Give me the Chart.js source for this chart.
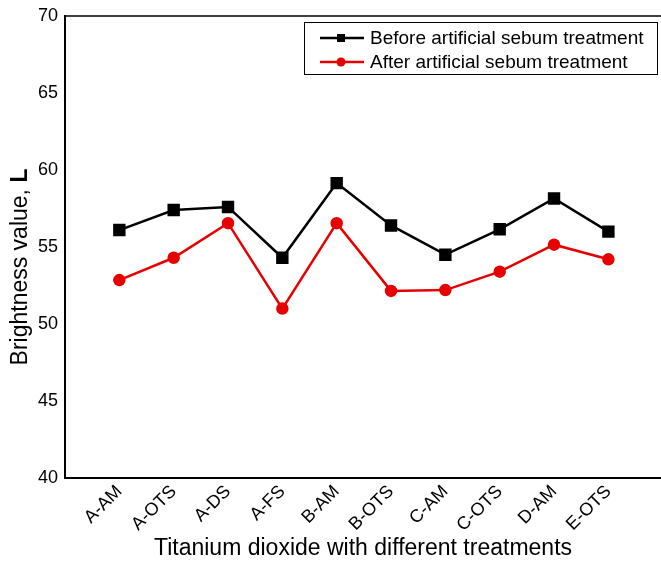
<!DOCTYPE html>
<html>
<head>
<meta charset="utf-8">
<script src="https://cdn.jsdelivr.net/npm/chart.js@4"></script>
<style>
    html, body { margin: 0; padding: 0; background: #fff; }
    #wrap { width: 661px; height: 562px; }
</style>
</head>
<body>
<div id="wrap"><canvas id="brightChart" width="661" height="562"></canvas></div>
<script>
// Categories and brightness values
const treatments = ['A-AM', 'A-OTS', 'A-DS', 'A-FS', 'B-AM', 'B-OTS', 'C-AM', 'C-OTS', 'D-AM', 'E-OTS'];
const beforeSebum = [56.1, 57.4, 57.6, 54.3, 59.15, 56.4, 54.5, 56.15, 58.15, 56.0];
const afterSebum = [52.85, 54.3, 56.55, 51.0, 56.55, 52.15, 52.2, 53.4, 55.15, 54.2];
const yTicks = [40, 45, 50, 55, 60, 65, 70];

const FONT = "'Liberation Sans', Arial, sans-serif";
const RED = '#e60000';

function toPoints(values) {
    return values.map((v, i) => ({ x: i, y: v }));
}

// Frame top line, axis titles and the boxed legend
const decorPlugin = {
    id: 'decor',
    afterDraw(chart) {
        const ctx = chart.ctx;
        const area = chart.chartArea;
        ctx.save();

        // top frame line
        ctx.strokeStyle = '#000';
        ctx.lineWidth = 1.5;
        ctx.beginPath();
        ctx.moveTo(area.left, area.top);
        ctx.lineTo(area.right + 1, area.top);
        ctx.stroke();

        // x axis title
        ctx.fillStyle = '#000';
        ctx.font = '23px ' + FONT;
        ctx.textAlign = 'center';
        ctx.textBaseline = 'alphabetic';
        ctx.fillText('Titanium dioxide with different treatments', 363, 555);

        // y axis title, with bold L
        ctx.save();
        ctx.translate(27, 267);
        ctx.rotate(-Math.PI / 2);
        ctx.textAlign = 'left';
        ctx.font = '23px ' + FONT;
        const part1 = 'Brightness value,';
        const w1 = ctx.measureText(part1 + ' ').width;
        ctx.font = 'bold 23px ' + FONT;
        const w2 = ctx.measureText('L').width;
        const start = -(w1 + w2) / 2;
        ctx.font = '23px ' + FONT;
        ctx.fillText(part1, start, 0);
        ctx.font = 'bold 23px ' + FONT;
        ctx.fillText('L', start + w1, 0);
        ctx.restore();

        // legend box
        ctx.lineWidth = 1;
        ctx.strokeStyle = '#000';
        ctx.strokeRect(304.5, 22.5, 353, 52);
        const rows = [
            { label: 'Before artificial sebum treatment', color: '#000', y: 38, style: 'rect' },
            { label: 'After artificial sebum treatment', color: RED, y: 62, style: 'circle' }
        ];
        rows.forEach(function(r) {
            ctx.strokeStyle = r.color;
            ctx.fillStyle = r.color;
            ctx.lineWidth = 2.5;
            ctx.beginPath();
            ctx.moveTo(320, r.y);
            ctx.lineTo(364, r.y);
            ctx.stroke();
            if (r.style === 'rect') {
                ctx.fillRect(337, r.y - 4, 8, 8);
            } else {
                ctx.beginPath();
                ctx.arc(341, r.y, 4.5, 0, Math.PI * 2);
                ctx.fill();
            }
            ctx.fillStyle = '#000';
            ctx.font = '19px ' + FONT;
            ctx.textAlign = 'left';
            ctx.textBaseline = 'middle';
            ctx.fillText(r.label, 370, r.y + 1);
        });

        ctx.restore();
    }
};

const ctx = document.getElementById('brightChart').getContext('2d');
window.brightChart = new Chart(ctx, {
    type: 'line',
    data: {
        datasets: [{
            label: 'Before artificial sebum treatment',
            data: toPoints(beforeSebum),
            borderColor: '#000',
            backgroundColor: '#000',
            borderWidth: 2.5,
            pointStyle: 'rect',
            pointRadius: 7,
            tension: 0
        }, {
            label: 'After artificial sebum treatment',
            data: toPoints(afterSebum),
            borderColor: RED,
            backgroundColor: RED,
            borderWidth: 2.5,
            pointStyle: 'circle',
            pointRadius: 5,
            tension: 0
        }]
    },
    options: {
        responsive: false,
        animation: false,
        events: [],
        layout: { autoPadding: false, padding: { top: 16, right: 1, left: 0, bottom: 0 } },
        plugins: {
            legend: { display: false },
            tooltip: { enabled: false }
        },
        scales: {
            x: {
                type: 'linear',
                min: -1,
                max: 9.95,
                grid: { display: false, drawTicks: false },
                border: { display: true, color: '#000', width: 2 },
                afterBuildTicks: function(scale) {
                    scale.ticks = treatments.map((t, i) => ({ value: i }));
                },
                afterFit: function(scale) {
                    scale.height = 84;
                    scale.paddingLeft = 0;
                    scale.paddingRight = 0;
                },
                ticks: {
                    autoSkip: false,
                    minRotation: 45,
                    maxRotation: 45,
                    padding: 3,
                    color: '#000',
                    font: { family: FONT, size: 18 },
                    callback: function(value) { return treatments[value] || ''; }
                }
            },
            y: {
                min: 40,
                max: 70,
                grid: { display: false, drawTicks: false },
                border: { display: true, color: '#000', width: 2 },
                afterBuildTicks: function(scale) {
                    scale.ticks = yTicks.map(v => ({ value: v }));
                },
                afterFit: function(scale) {
                    scale.width = 65;
                    scale.paddingTop = 0;
                    scale.paddingBottom = 0;
                },
                ticks: {
                    padding: 7,
                    color: '#000',
                    font: { family: FONT, size: 18 }
                }
            }
        }
    },
    plugins: [decorPlugin]
});
</script>
</body>
</html>
